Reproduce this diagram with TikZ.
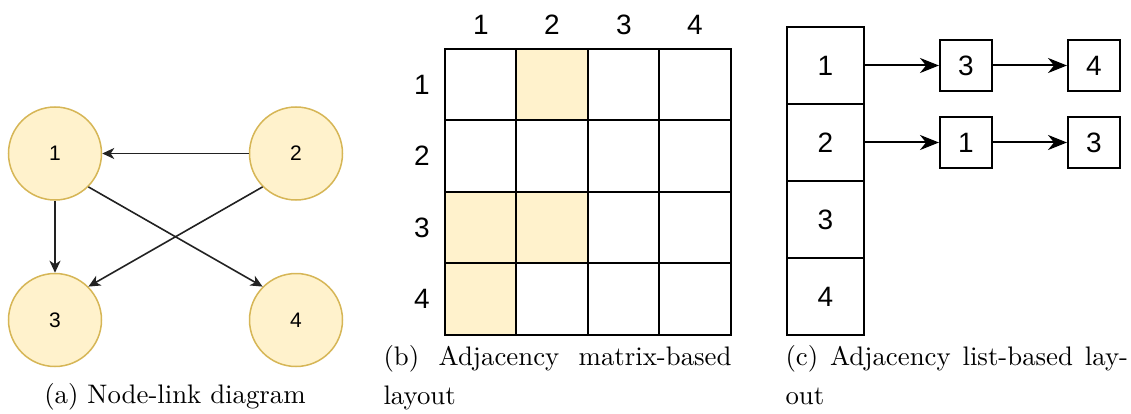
\documentclass[tikz,border=0pt]{standalone}
\usepackage{fontspec}
\newfontfamily\lab{Liberation Sans}
\usetikzlibrary{arrows.meta}
\definecolor{cfill}{HTML}{FFF2CC}
\definecolor{cline}{HTML}{D6B656}
\definecolor{edgecol}{HTML}{222222}
\begin{document}
\begin{tikzpicture}[x=1pt,y=1pt,
  vertex/.style={circle,draw=cline,fill=cfill,line width=1.5pt,minimum size=93pt,inner sep=0pt,font=\lab\fontsize{21}{21}\selectfont},
  edge/.style={draw=edgecol,line width=1.6pt,-{Stealth[length=12pt,width=11pt,inset=3.5pt]}},
  gridline/.style={draw=black,line width=2pt,line cap=rect},
  mlabel/.style={font=\lab\fontsize{28}{28}\selectfont,inner sep=0pt},
  bigbox/.style={draw=black,line width=2pt,minimum width=77pt,minimum height=77pt,inner sep=0pt,font=\lab\fontsize{28}{28}\selectfont},
  smallbox/.style={draw=black,line width=2pt,minimum width=52pt,minimum height=51pt,inner sep=0pt,font=\lab\fontsize{28}{28}\selectfont},
  listarrow/.style={draw=black,line width=2pt,-{Stealth[length=19pt,width=15pt,inset=6pt]}},
  captext/.style={scale=2.68,transform shape,inner sep=0pt,font=\fontsize{10}{14.55}\selectfont}
]
\useasboundingbox (0,0) rectangle (1131,-414);
% (a) node-link diagram
\node[vertex] (c1) at (55,-153.5) {1};
\node[vertex] (c2) at (296,-153.5) {2};
\node[vertex] (c3) at (55,-320) {3};
\node[vertex] (c4) at (296,-320) {4};
\draw[edge] (c2) -- (c1);
\draw[edge] (c1) -- (c3);
\draw[edge] (c1.-45) -- (c4.135);
\draw[edge] (c2.-135) -- (c3.45);
\node[captext,anchor=center] (capa) at (175,-397) {(a) Node-link diagram};
% (b) adjacency matrix
\fill[cfill] (516,-49) rectangle (588,-120);
\fill[cfill] (445,-192) rectangle (588,-263);
\fill[cfill] (445,-263) rectangle (516,-335);
\foreach \x in {445,516,588,659,731} \draw[gridline] (\x,-49) -- (\x,-335);
\foreach \y in {49,120,192,263,335} \draw[gridline] (445,-\y) -- (731,-\y);
\foreach \c/\x in {1/481,2/552,3/624,4/695}{
  \node[mlabel] (col\c) at (\x,-25) {\c};
}
\foreach \r/\y in {1/85,2/156,3/228,4/299}{
  \node[mlabel] (row\r) at (422,-\y) {\r};
}
\node[captext,anchor=north west,text width=129.85pt,align=justify] (capb) at (383,-345) {(b) Adjacency matrix-based\linebreak layout};
% (c) adjacency list
\node[bigbox] (l1) at (825.5,-65.5) {1};
\node[bigbox] (l2) at (825.5,-142.5) {2};
\node[bigbox] (l3) at (825.5,-219.5) {3};
\node[bigbox] (l4) at (825.5,-296.5) {4};
\node[smallbox] (a13) at (966,-65.5) {3};
\node[smallbox] (a14) at (1094,-65.5) {4};
\node[smallbox] (a21) at (966,-142.5) {1};
\node[smallbox] (a23) at (1094,-142.5) {3};
\draw[listarrow] (l1.east) -- (a13.west);
\draw[listarrow] (a13.east) -- (a14.west);
\draw[listarrow] (l2.east) -- (a21.west);
\draw[listarrow] (a21.east) -- (a23.west);
\node[captext,anchor=north west,text width=127.8pt,align=justify] (capc) at (785,-345) {(c) Adjacency list-based lay-\linebreak out};
\end{tikzpicture}
\end{document}
